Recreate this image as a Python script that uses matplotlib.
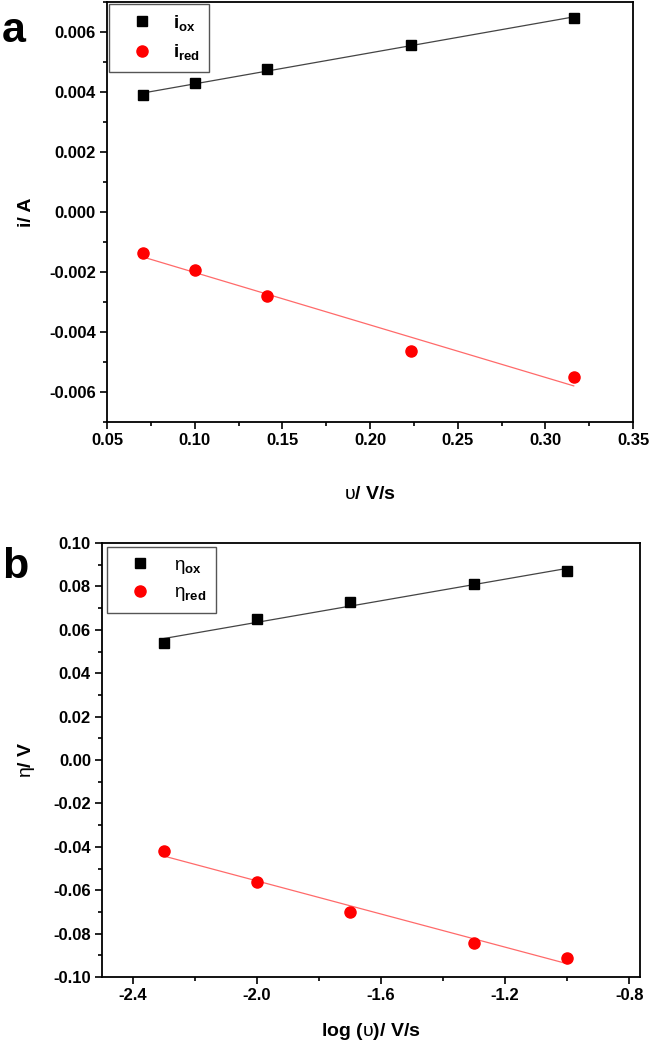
import numpy as np
import matplotlib
matplotlib.use("Agg")
import matplotlib.pyplot as plt
from matplotlib.ticker import MultipleLocator, FuncFormatter

plt.rcParams['font.family'] = ['Liberation Sans', 'DejaVu Sans']
plt.rcParams['font.weight'] = 'bold'
plt.rcParams['mathtext.fontset'] = 'custom'
plt.rcParams['mathtext.rm'] = 'Liberation Sans:weight=normal'
plt.rcParams['mathtext.bf'] = 'Liberation Sans:weight=bold'
plt.rcParams['mathtext.it'] = 'Liberation Sans:italic'

# panel a: peak current vs square root of scan rate
sqrt_v = [0.0707, 0.1, 0.1414, 0.2236, 0.3162]
i_ox = [0.00390, 0.00429, 0.00476, 0.00557, 0.00647]
i_red = [-0.00136, -0.00193, -0.00281, -0.00462, -0.00551]

# panel b: overpotential vs log scan rate
log_v = [-2.3, -2.0, -1.7, -1.3, -1.0]
eta_ox = [0.0539, 0.0648, 0.0728, 0.0810, 0.0870]
eta_red = [-0.0420, -0.0562, -0.0700, -0.0842, -0.0911]

fig = plt.figure(figsize=(6.49, 10.5), dpi=100)
W, H = 649, 1050
ax1 = fig.add_axes([107 / W, 1 - 422 / H, (633 - 107) / W, (422 - 2) / H])
ax2 = fig.add_axes([102 / W, 1 - 977 / H, (640 - 102) / W, (977 - 543) / H])


def fmt(n):
    def f(v, pos):
        s = '%.*f' % (n, v)
        if float(s) == 0:
            s = s.lstrip('-')
        return s
    return FuncFormatter(f)


def fit_line(ax, x, y, color):
    x = np.array(x)
    p = np.polyfit(x, y, 1)
    xx = np.array([x.min(), x.max()])
    ax.plot(xx, np.polyval(p, xx), color=color, lw=0.9, zorder=2)


def style(ax):
    for s in ax.spines.values():
        s.set_linewidth(1.3)
    ax.tick_params(which='both', direction='out', top=False, right=False, width=1.2)
    ax.tick_params(which='major', length=5, labelsize=12, pad=3)
    ax.tick_params(which='minor', length=3)


# panel a
fit_line(ax1, sqrt_v, i_ox, '#444444')
fit_line(ax1, sqrt_v, i_red, '#ff6a6a')
h1, = ax1.plot(sqrt_v, i_ox, 's', color='black', ms=7.5, ls='none', zorder=3,
               label=r'i$_{\mathbf{ox}}$')
h2, = ax1.plot(sqrt_v, i_red, 'o', color='red', ms=8, ls='none', zorder=3,
               label=r'i$_{\mathbf{red}}$')
ax1.set_xlim(0.05, 0.35)
ax1.set_ylim(-0.007, 0.007)
ax1.xaxis.set_major_locator(MultipleLocator(0.05))
ax1.xaxis.set_minor_locator(MultipleLocator(0.025))
ax1.yaxis.set_major_locator(MultipleLocator(0.002))
ax1.yaxis.set_minor_locator(MultipleLocator(0.001))
ax1.xaxis.set_major_formatter(fmt(2))
ax1.yaxis.set_major_formatter(fmt(3))
style(ax1)
ax1.set_xlabel(r'$\mathrm{υ}$/ V/s', fontsize=14, fontweight='bold', labelpad=27)
ax1.set_ylabel('i/ A', fontsize=14, fontweight='bold', labelpad=10)
leg1 = ax1.legend(handles=[h1, h2], loc='upper left', bbox_to_anchor=(0.004, 0.996),
                  borderaxespad=0, fancybox=False, edgecolor='#555555', framealpha=1,
                  fontsize=13.5, borderpad=0.5, labelspacing=0.5, handlelength=2.5,
                  handletextpad=0.4)
leg1.get_frame().set_linewidth(1.0)

# panel b
fit_line(ax2, log_v, eta_ox, '#444444')
fit_line(ax2, log_v, eta_red, '#ff6a6a')
g1, = ax2.plot(log_v, eta_ox, 's', color='black', ms=7.5, ls='none', zorder=3,
               label=r'$\mathrm{η}_{\mathbf{ox}}$')
g2, = ax2.plot(log_v, eta_red, 'o', color='red', ms=8, ls='none', zorder=3,
               label=r'$\mathrm{η}_{\mathbf{red}}$')
ax2.set_xlim(-2.5, -0.765)
ax2.set_ylim(-0.10, 0.10)
ax2.xaxis.set_major_locator(MultipleLocator(0.4))
ax2.xaxis.set_minor_locator(MultipleLocator(0.2))
ax2.yaxis.set_major_locator(MultipleLocator(0.02))
ax2.yaxis.set_minor_locator(MultipleLocator(0.01))
ax2.xaxis.set_major_formatter(fmt(1))
ax2.yaxis.set_major_formatter(fmt(2))
style(ax2)
ax2.set_xlabel(r'log ($\mathrm{υ}$)/ V/s', fontsize=14, fontweight='bold', labelpad=13)
ax2.set_ylabel(r'$\mathrm{η}$/ V', fontsize=14, fontweight='bold', labelpad=12)
leg2 = ax2.legend(handles=[g1, g2], loc='upper left', bbox_to_anchor=(0.009, 0.99),
                  borderaxespad=0, fancybox=False, edgecolor='#555555', framealpha=1,
                  fontsize=13.5, borderpad=0.5, labelspacing=0.45, handlelength=2.5,
                  handletextpad=0.6)
leg2.get_frame().set_linewidth(1.0)

fig.text(2 / W, 1 - 42 / H, 'a', fontsize=31, fontweight='bold', ha='left', va='baseline')
fig.text(2 / W, 1 - 578 / H, 'b', fontsize=31, fontweight='bold', ha='left', va='baseline')

fig.savefig('out.png', dpi=100)
